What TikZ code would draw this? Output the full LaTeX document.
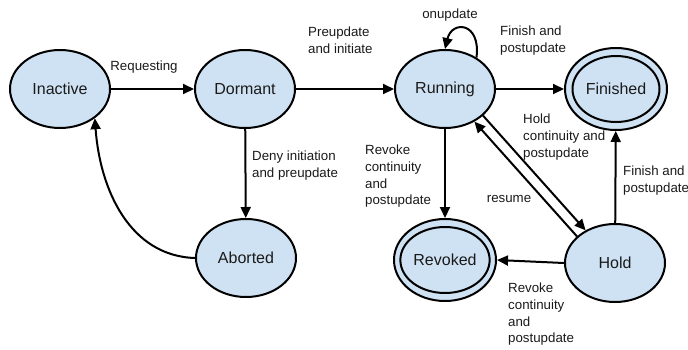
\documentclass[tikz,border=0pt]{standalone}
\usepackage{fontspec}
\setmainfont{Liberation Sans}
\usetikzlibrary{shapes.geometric,arrows.meta}
\definecolor{statefill}{HTML}{CFE2F3}
\definecolor{txt}{HTML}{1A1A1A}
\tikzset{
  state/.style={ellipse,draw=black,line width=2pt,fill=statefill,minimum width=100pt,minimum height=78pt,inner sep=0pt,font=\fontsize{16}{19}\selectfont,text=txt},
  finalout/.style={ellipse,draw=black,line width=2pt,fill=statefill,minimum width=102pt,minimum height=82pt,inner sep=0pt},
  finalin/.style={ellipse,draw=black,line width=2pt,minimum width=87pt,minimum height=66pt,inner sep=0pt,font=\fontsize{16}{19}\selectfont,text=txt},
  edge/.style={line width=2pt,-{Triangle[length=11pt,width=10pt]}},
  lbl/.style={inner sep=0pt,align=left,font=\fontsize{13.3}{16.6}\selectfont,text=txt},
}
\begin{document}
\begin{tikzpicture}[x=1pt,y=-1pt]
\useasboundingbox (0,0) rectangle (688,349);
\node[state] (Inactive) at (60,89) {Inactive};
\node[state] (Dormant) at (245,89) {Dormant};
\node[state] (Running) at (445,89) {Running};
\node[finalout] (Finished) at (616,89) {};
\node[finalin] (FinishedIn) at (616,89) {Finished};
\node[state] (Aborted) at (246,258) {Aborted};
\node[finalout] (Revoked) at (445,260) {};
\node[finalin] (RevokedIn) at (445,260) {Revoked};
\node[state] (Hold) at (615,263) {Hold};

\draw[edge] (Inactive) -- (Dormant);
\draw[edge] (Dormant) -- (Running);
\draw[edge] (Running) -- (Finished);
\draw[edge] (Dormant) -- (Aborted);
\draw[edge] (Running) -- (Revoked);
\draw[edge] (Hold) -- (Finished);
\draw[edge] (Hold.west) -- (Revoked.east);
\draw[edge] (Running.-35) -- (Hold.132);
\draw[edge] (Hold.145) -- (Running.-48);
\draw[edge] (Running.45) .. controls (481,22) and (452,20) .. (Running.north);
\draw[edge] (Aborted.west) .. controls (130,256) and (100,190) .. (Inactive.-40);

\node[lbl,anchor=base] (lReq) at (144,70) {Requesting};
\node[lbl,anchor=base] (lOn) at (450,18) {onupdate};
\node[lbl,anchor=north west] (lPre) at (308,27) {Preupdate\\and initiate};
\node[lbl,anchor=north west] (lFin1) at (500,26) {Finish and\\postupdate};
\node[lbl,anchor=north west] (lDeny) at (252,151) {Deny initiation\\and preupdate};
\node[lbl,anchor=north west] (lRev1) at (365,145) {Revoke\\continuity\\and\\postupdate};
\node[lbl,anchor=north west] (lHold) at (523,114) {Hold\\continuity and\\postupdate};
\node[lbl,anchor=base] (lRes) at (509,202) {resume};
\node[lbl,anchor=north west] (lFin2) at (623,166) {Finish and\\postupdate};
\node[lbl,anchor=north west] (lRev2) at (508,283) {Revoke\\continuity\\and\\postupdate};
\end{tikzpicture}
\end{document}
